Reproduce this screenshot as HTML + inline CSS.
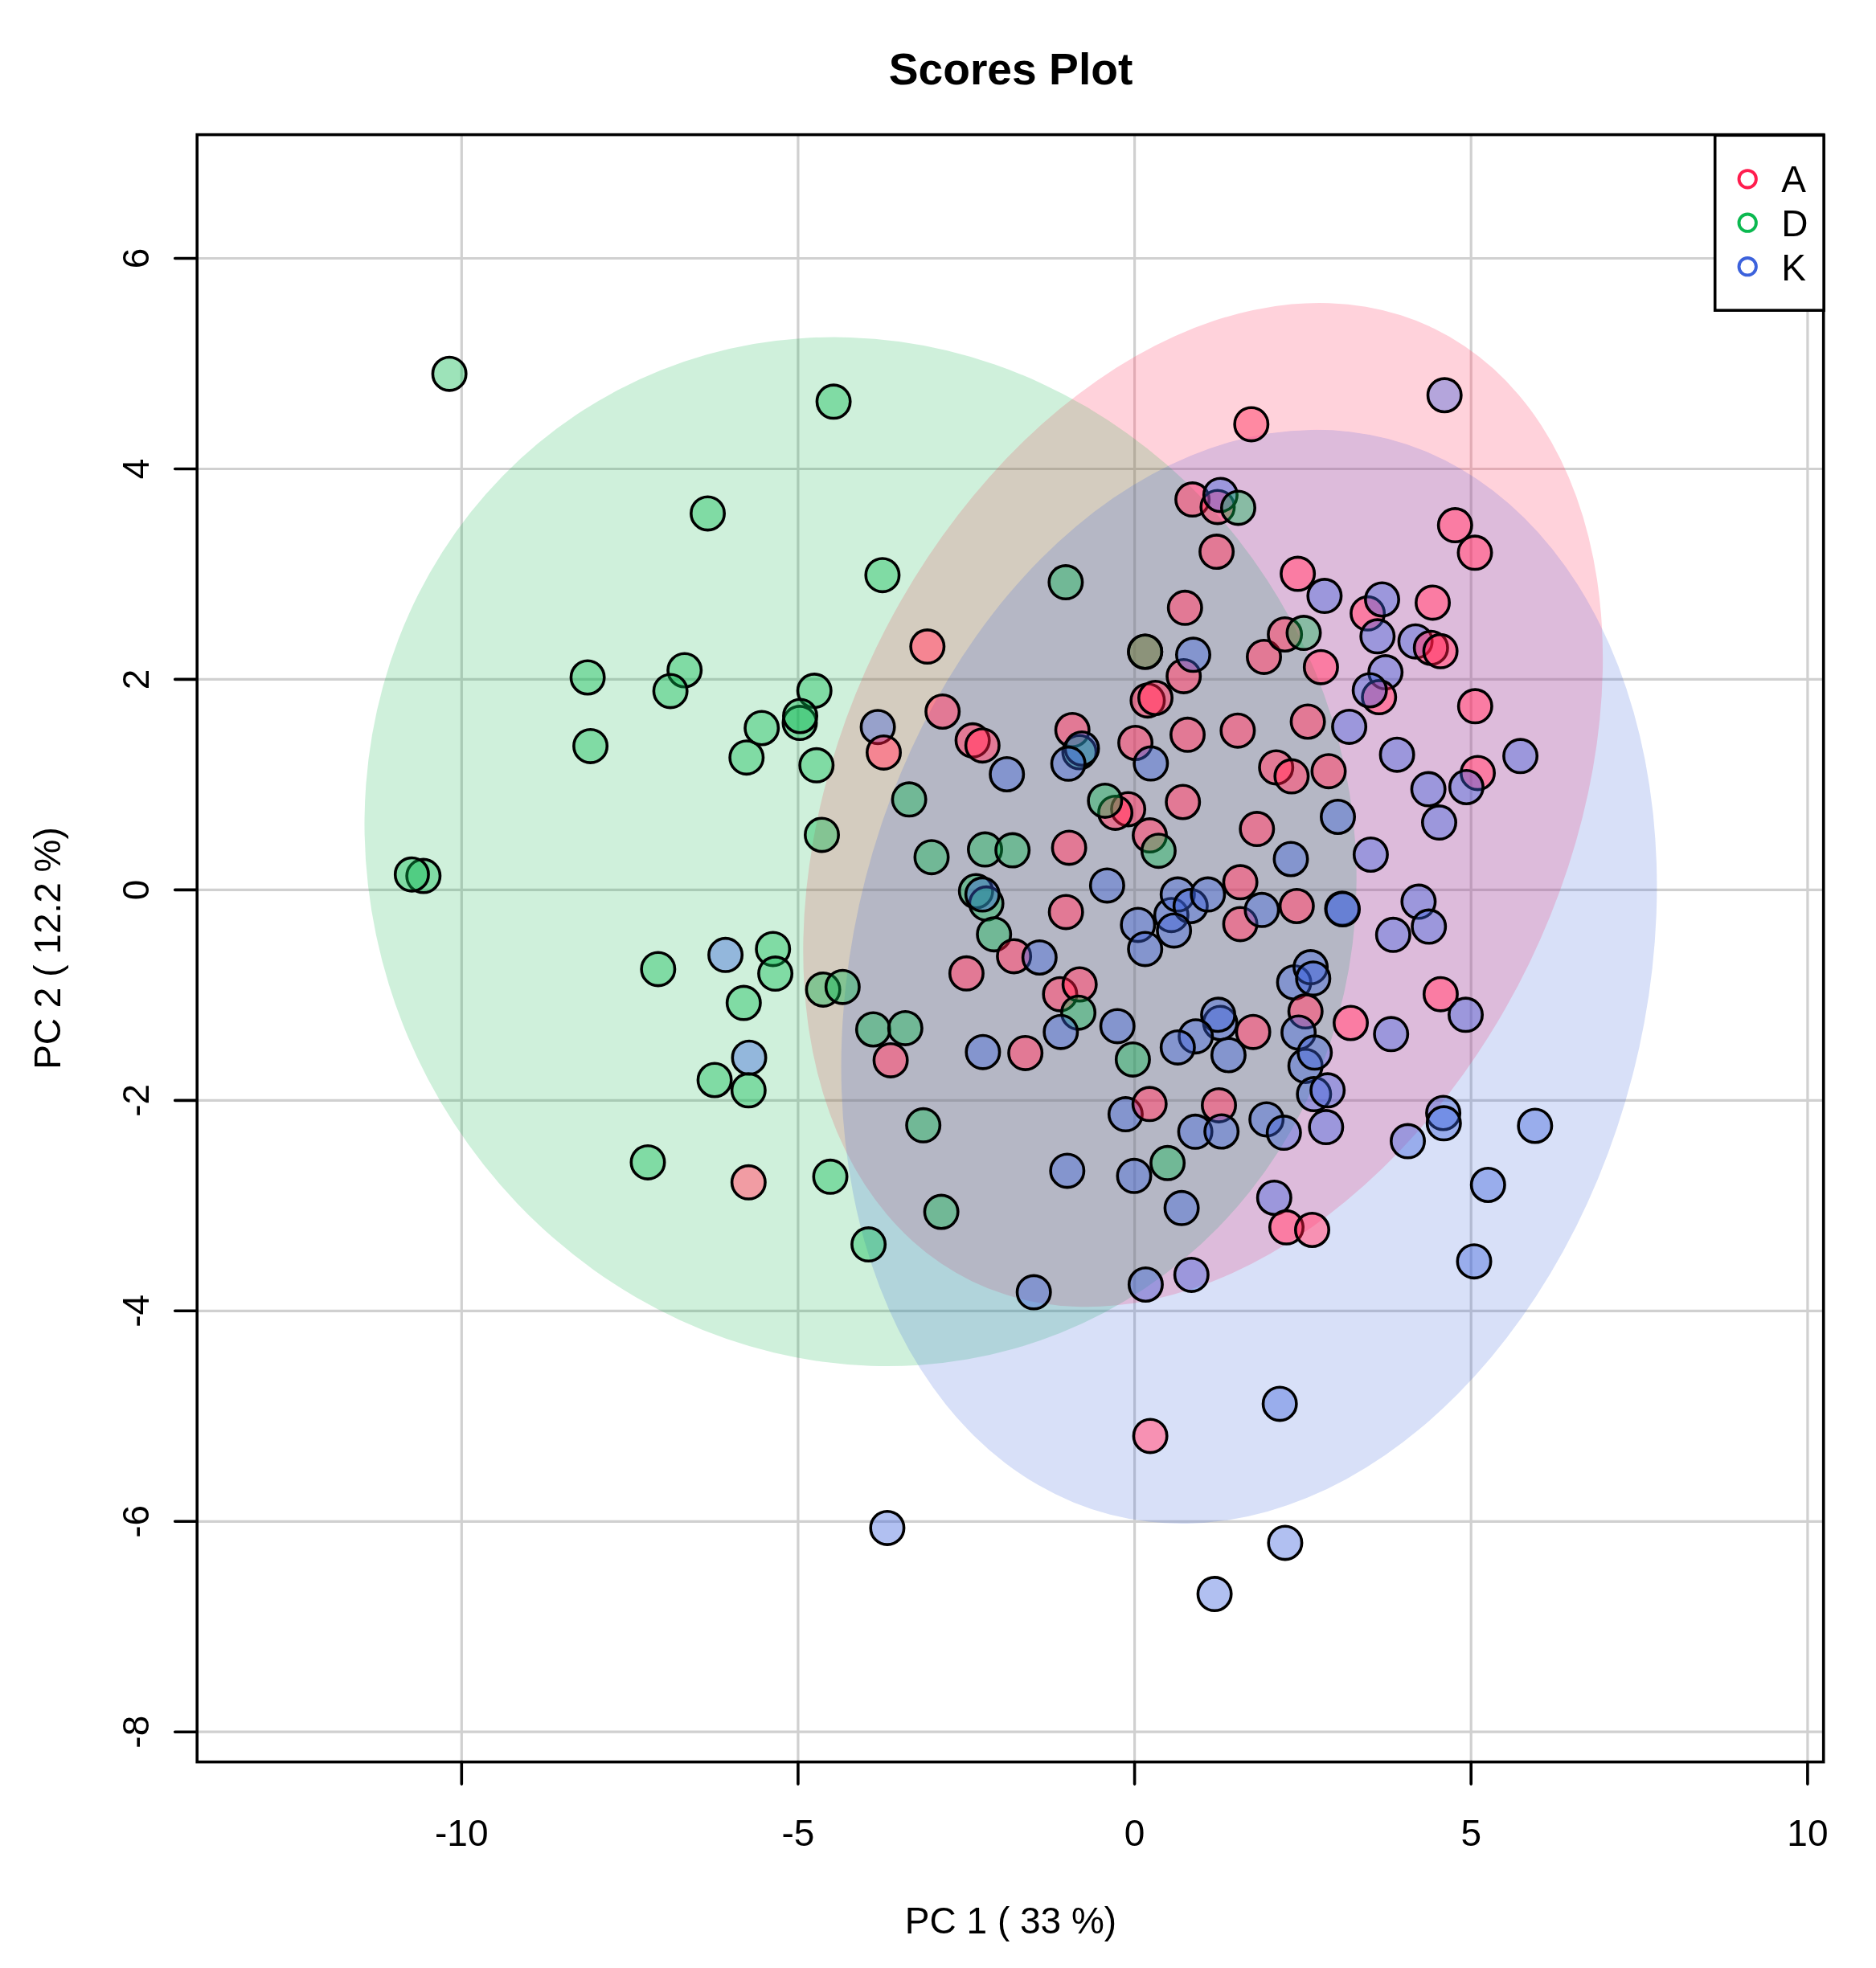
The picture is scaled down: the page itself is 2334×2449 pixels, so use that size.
<!DOCTYPE html>
<html><head><meta charset="utf-8"><title>Scores Plot</title>
<style>html,body{margin:0;padding:0;background:#fff}svg{display:block}</style>
</head><body>
<svg xmlns="http://www.w3.org/2000/svg" width="2334" height="2449" viewBox="0 0 2334 2449" style="filter:saturate(1.4)">
<rect x="0" y="0" width="2334" height="2449" fill="#ffffff"/>
<path d="M574.3 167.6V2192.6M992.9 167.6V2192.6M1411.6 167.6V2192.6M1830.2 167.6V2192.6M2248.9 167.6V2192.6M245.2 2155.2H2268.7M245.2 1893.3H2268.7M245.2 1631.3H2268.7M245.2 1369.4H2268.7M245.2 1107.4H2268.7M245.2 845.4H2268.7M245.2 583.5H2268.7M245.2 321.5H2268.7" stroke="#d0d0d0" stroke-width="3.2" fill="none"/>
<ellipse cx="1496.7" cy="1001.6" rx="658.8" ry="451.2" transform="rotate(-64.14 1496.7 1001.6)" fill="#ea2e51" fill-opacity="0.2"/>
<ellipse cx="1070.6" cy="1059.8" rx="648.9" ry="608.0" transform="rotate(-117.75 1070.6 1059.8)" fill="#30ac61" fill-opacity="0.2"/>
<ellipse cx="1554.0" cy="1215.4" rx="691.3" ry="492.7" transform="rotate(-75.52 1554.0 1215.4)" fill="#4762b9" fill-opacity="0.2"/>
<g stroke="#000" stroke-width="3.6">
<circle cx="559.1" cy="465.2" r="20.7" fill="#30ac61" fill-opacity="0.4"/>
<circle cx="1037.1" cy="499.8" r="20.7" fill="#30ac61" fill-opacity="0.4"/>
<circle cx="880.5" cy="638.9" r="20.7" fill="#30ac61" fill-opacity="0.4"/>
<circle cx="731.1" cy="843.0" r="20.7" fill="#30ac61" fill-opacity="0.4"/>
<circle cx="851.7" cy="834.0" r="20.7" fill="#30ac61" fill-opacity="0.4"/>
<circle cx="834.1" cy="859.9" r="20.7" fill="#30ac61" fill-opacity="0.4"/>
<circle cx="734.6" cy="928.4" r="20.7" fill="#30ac61" fill-opacity="0.4"/>
<circle cx="1013.2" cy="859.6" r="20.7" fill="#30ac61" fill-opacity="0.4"/>
<circle cx="995.0" cy="899.6" r="20.7" fill="#30ac61" fill-opacity="0.4"/>
<circle cx="995.5" cy="891.0" r="20.7" fill="#30ac61" fill-opacity="0.4"/>
<circle cx="947.7" cy="906.0" r="20.7" fill="#30ac61" fill-opacity="0.4"/>
<circle cx="928.8" cy="942.7" r="20.7" fill="#30ac61" fill-opacity="0.4"/>
<circle cx="1015.8" cy="952.3" r="20.7" fill="#30ac61" fill-opacity="0.4"/>
<circle cx="1556.8" cy="527.9" r="20.7" fill="#ea2e51" fill-opacity="0.4"/>
<circle cx="1483.6" cy="621.6" r="20.7" fill="#ea2e51" fill-opacity="0.4"/>
<circle cx="1514.9" cy="630.9" r="20.7" fill="#ea2e51" fill-opacity="0.4"/>
<circle cx="1518.4" cy="615.9" r="20.7" fill="#4762b9" fill-opacity="0.4"/>
<circle cx="1540.5" cy="631.9" r="20.7" fill="#30ac61" fill-opacity="0.4"/>
<circle cx="1513.6" cy="686.6" r="20.7" fill="#ea2e51" fill-opacity="0.4"/>
<circle cx="1097.9" cy="715.7" r="20.7" fill="#30ac61" fill-opacity="0.4"/>
<circle cx="1325.9" cy="724.6" r="20.7" fill="#30ac61" fill-opacity="0.4"/>
<circle cx="1474.3" cy="756.3" r="20.7" fill="#ea2e51" fill-opacity="0.4"/>
<circle cx="1153.8" cy="804.6" r="20.7" fill="#ea2e51" fill-opacity="0.4"/>
<circle cx="1424.7" cy="811.0" r="20.7" fill="#ea2e51" fill-opacity="0.4"/>
<circle cx="1424.7" cy="811.0" r="20.7" fill="#30ac61" fill-opacity="0.4"/>
<circle cx="1472.7" cy="841.4" r="20.7" fill="#ea2e51" fill-opacity="0.4"/>
<circle cx="1484.5" cy="814.8" r="20.7" fill="#4762b9" fill-opacity="0.4"/>
<circle cx="1572.5" cy="817.4" r="20.7" fill="#ea2e51" fill-opacity="0.4"/>
<circle cx="1427.9" cy="871.7" r="20.7" fill="#ea2e51" fill-opacity="0.4"/>
<circle cx="1437.5" cy="868.5" r="20.7" fill="#ea2e51" fill-opacity="0.4"/>
<circle cx="1092.1" cy="904.7" r="20.7" fill="#4762b9" fill-opacity="0.4"/>
<circle cx="1099.5" cy="936.4" r="20.7" fill="#ea2e51" fill-opacity="0.4"/>
<circle cx="1172.7" cy="885.5" r="20.7" fill="#ea2e51" fill-opacity="0.4"/>
<circle cx="1210.1" cy="921.3" r="20.7" fill="#ea2e51" fill-opacity="0.4"/>
<circle cx="1222.3" cy="927.7" r="20.7" fill="#ea2e51" fill-opacity="0.4"/>
<circle cx="1252.7" cy="963.5" r="20.7" fill="#4762b9" fill-opacity="0.4"/>
<circle cx="1334.2" cy="908.5" r="20.7" fill="#ea2e51" fill-opacity="0.4"/>
<circle cx="1343.0" cy="936.0" r="20.7" fill="#30ac61" fill-opacity="0.4"/>
<circle cx="1346.0" cy="931.5" r="20.7" fill="#4762b9" fill-opacity="0.4"/>
<circle cx="1329.2" cy="950.3" r="20.7" fill="#4762b9" fill-opacity="0.4"/>
<circle cx="1412.6" cy="924.5" r="20.7" fill="#ea2e51" fill-opacity="0.4"/>
<circle cx="1431.8" cy="950.1" r="20.7" fill="#4762b9" fill-opacity="0.4"/>
<circle cx="1477.5" cy="914.3" r="20.7" fill="#ea2e51" fill-opacity="0.4"/>
<circle cx="1539.9" cy="909.2" r="20.7" fill="#ea2e51" fill-opacity="0.4"/>
<circle cx="1797.2" cy="491.8" r="20.7" fill="#4762b9" fill-opacity="0.4"/>
<circle cx="1810.3" cy="653.6" r="20.7" fill="#ea2e51" fill-opacity="0.4"/>
<circle cx="1835.0" cy="687.8" r="20.7" fill="#ea2e51" fill-opacity="0.4"/>
<circle cx="1614.6" cy="714.1" r="20.7" fill="#ea2e51" fill-opacity="0.4"/>
<circle cx="1647.9" cy="741.6" r="20.7" fill="#4762b9" fill-opacity="0.4"/>
<circle cx="1701.6" cy="763.3" r="20.7" fill="#ea2e51" fill-opacity="0.4"/>
<circle cx="1719.5" cy="746.0" r="20.7" fill="#4762b9" fill-opacity="0.4"/>
<circle cx="1782.5" cy="749.9" r="20.7" fill="#ea2e51" fill-opacity="0.4"/>
<circle cx="1713.8" cy="791.8" r="20.7" fill="#4762b9" fill-opacity="0.4"/>
<circle cx="1598.6" cy="789.5" r="20.7" fill="#ea2e51" fill-opacity="0.4"/>
<circle cx="1622.0" cy="787.6" r="20.7" fill="#30ac61" fill-opacity="0.4"/>
<circle cx="1643.4" cy="830.2" r="20.7" fill="#ea2e51" fill-opacity="0.4"/>
<circle cx="1761.1" cy="798.2" r="20.7" fill="#4762b9" fill-opacity="0.4"/>
<circle cx="1780.3" cy="806.2" r="20.7" fill="#ea2e51" fill-opacity="0.4"/>
<circle cx="1792.1" cy="810.3" r="20.7" fill="#ea2e51" fill-opacity="0.4"/>
<circle cx="1723.7" cy="836.6" r="20.7" fill="#4762b9" fill-opacity="0.4"/>
<circle cx="1715.7" cy="867.6" r="20.7" fill="#ea2e51" fill-opacity="0.4"/>
<circle cx="1704.2" cy="859.0" r="20.7" fill="#4762b9" fill-opacity="0.4"/>
<circle cx="1835.3" cy="878.8" r="20.7" fill="#ea2e51" fill-opacity="0.4"/>
<circle cx="1627.1" cy="898.0" r="20.7" fill="#ea2e51" fill-opacity="0.4"/>
<circle cx="1678.6" cy="904.4" r="20.7" fill="#4762b9" fill-opacity="0.4"/>
<circle cx="1738.1" cy="939.2" r="20.7" fill="#4762b9" fill-opacity="0.4"/>
<circle cx="1891.6" cy="940.8" r="20.7" fill="#4762b9" fill-opacity="0.4"/>
<circle cx="1587.7" cy="954.9" r="20.7" fill="#ea2e51" fill-opacity="0.4"/>
<circle cx="1606.9" cy="966.1" r="20.7" fill="#ea2e51" fill-opacity="0.4"/>
<circle cx="1653.0" cy="959.7" r="20.7" fill="#ea2e51" fill-opacity="0.4"/>
<circle cx="1838.5" cy="961.9" r="20.7" fill="#ea2e51" fill-opacity="0.4"/>
<circle cx="1824.4" cy="979.5" r="20.7" fill="#4762b9" fill-opacity="0.4"/>
<circle cx="1777.1" cy="982.1" r="20.7" fill="#4762b9" fill-opacity="0.4"/>
<circle cx="526.8" cy="1090.1" r="20.7" fill="#30ac61" fill-opacity="0.4"/>
<circle cx="512.4" cy="1088.2" r="20.7" fill="#30ac61" fill-opacity="0.4"/>
<circle cx="1022.5" cy="1038.9" r="20.7" fill="#30ac61" fill-opacity="0.4"/>
<circle cx="818.8" cy="1205.9" r="20.7" fill="#30ac61" fill-opacity="0.4"/>
<circle cx="902.6" cy="1188.3" r="20.7" fill="#4762b9" fill-opacity="0.4"/>
<circle cx="961.7" cy="1180.9" r="20.7" fill="#30ac61" fill-opacity="0.4"/>
<circle cx="964.6" cy="1211.6" r="20.7" fill="#30ac61" fill-opacity="0.4"/>
<circle cx="925.3" cy="1248.1" r="20.7" fill="#30ac61" fill-opacity="0.4"/>
<circle cx="1024.1" cy="1231.4" r="20.7" fill="#30ac61" fill-opacity="0.4"/>
<circle cx="1048.3" cy="1228.2" r="20.7" fill="#30ac61" fill-opacity="0.4"/>
<circle cx="932.0" cy="1316.2" r="20.7" fill="#4762b9" fill-opacity="0.4"/>
<circle cx="889.1" cy="1344.0" r="20.7" fill="#30ac61" fill-opacity="0.4"/>
<circle cx="931.3" cy="1356.8" r="20.7" fill="#30ac61" fill-opacity="0.4"/>
<circle cx="806.0" cy="1446.4" r="20.7" fill="#30ac61" fill-opacity="0.4"/>
<circle cx="931.3" cy="1471.3" r="20.7" fill="#ea2e51" fill-opacity="0.4"/>
<circle cx="1033.0" cy="1464.3" r="20.7" fill="#30ac61" fill-opacity="0.4"/>
<circle cx="1131.1" cy="994.8" r="20.7" fill="#30ac61" fill-opacity="0.4"/>
<circle cx="1159.0" cy="1066.7" r="20.7" fill="#30ac61" fill-opacity="0.4"/>
<circle cx="1225.5" cy="1057.1" r="20.7" fill="#30ac61" fill-opacity="0.4"/>
<circle cx="1259.7" cy="1058.1" r="20.7" fill="#30ac61" fill-opacity="0.4"/>
<circle cx="1330.1" cy="1054.9" r="20.7" fill="#ea2e51" fill-opacity="0.4"/>
<circle cx="1403.6" cy="1006.9" r="20.7" fill="#ea2e51" fill-opacity="0.4"/>
<circle cx="1387.6" cy="1011.4" r="20.7" fill="#ea2e51" fill-opacity="0.4"/>
<circle cx="1374.8" cy="996.4" r="20.7" fill="#30ac61" fill-opacity="0.4"/>
<circle cx="1430.5" cy="1039.6" r="20.7" fill="#ea2e51" fill-opacity="0.4"/>
<circle cx="1441.4" cy="1058.7" r="20.7" fill="#30ac61" fill-opacity="0.4"/>
<circle cx="1471.7" cy="998.0" r="20.7" fill="#ea2e51" fill-opacity="0.4"/>
<circle cx="1563.8" cy="1031.6" r="20.7" fill="#ea2e51" fill-opacity="0.4"/>
<circle cx="1377.4" cy="1101.9" r="20.7" fill="#4762b9" fill-opacity="0.4"/>
<circle cx="1214.3" cy="1109.0" r="20.7" fill="#30ac61" fill-opacity="0.4"/>
<circle cx="1227.1" cy="1124.3" r="20.7" fill="#30ac61" fill-opacity="0.4"/>
<circle cx="1222.3" cy="1113.1" r="20.7" fill="#4762b9" fill-opacity="0.4"/>
<circle cx="1236.7" cy="1162.7" r="20.7" fill="#30ac61" fill-opacity="0.4"/>
<circle cx="1261.6" cy="1189.9" r="20.7" fill="#ea2e51" fill-opacity="0.4"/>
<circle cx="1293.3" cy="1191.5" r="20.7" fill="#4762b9" fill-opacity="0.4"/>
<circle cx="1326.2" cy="1134.9" r="20.7" fill="#ea2e51" fill-opacity="0.4"/>
<circle cx="1202.4" cy="1211.3" r="20.7" fill="#ea2e51" fill-opacity="0.4"/>
<circle cx="1086.4" cy="1281.0" r="20.7" fill="#30ac61" fill-opacity="0.4"/>
<circle cx="1126.3" cy="1279.4" r="20.7" fill="#30ac61" fill-opacity="0.4"/>
<circle cx="1108.1" cy="1319.4" r="20.7" fill="#ea2e51" fill-opacity="0.4"/>
<circle cx="1222.9" cy="1309.2" r="20.7" fill="#4762b9" fill-opacity="0.4"/>
<circle cx="1275.7" cy="1310.4" r="20.7" fill="#ea2e51" fill-opacity="0.4"/>
<circle cx="1318.9" cy="1237.2" r="20.7" fill="#ea2e51" fill-opacity="0.4"/>
<circle cx="1343.2" cy="1225.0" r="20.7" fill="#ea2e51" fill-opacity="0.4"/>
<circle cx="1341.6" cy="1260.2" r="20.7" fill="#30ac61" fill-opacity="0.4"/>
<circle cx="1319.8" cy="1284.2" r="20.7" fill="#4762b9" fill-opacity="0.4"/>
<circle cx="1390.2" cy="1276.9" r="20.7" fill="#4762b9" fill-opacity="0.4"/>
<circle cx="1409.4" cy="1318.4" r="20.7" fill="#30ac61" fill-opacity="0.4"/>
<circle cx="1415.8" cy="1150.9" r="20.7" fill="#4762b9" fill-opacity="0.4"/>
<circle cx="1424.7" cy="1180.9" r="20.7" fill="#4762b9" fill-opacity="0.4"/>
<circle cx="1457.3" cy="1138.7" r="20.7" fill="#4762b9" fill-opacity="0.4"/>
<circle cx="1465.3" cy="1113.1" r="20.7" fill="#4762b9" fill-opacity="0.4"/>
<circle cx="1481.3" cy="1127.5" r="20.7" fill="#4762b9" fill-opacity="0.4"/>
<circle cx="1460.6" cy="1157.9" r="20.7" fill="#4762b9" fill-opacity="0.4"/>
<circle cx="1502.8" cy="1113.1" r="20.7" fill="#4762b9" fill-opacity="0.4"/>
<circle cx="1543.1" cy="1097.8" r="20.7" fill="#ea2e51" fill-opacity="0.4"/>
<circle cx="1543.1" cy="1149.9" r="20.7" fill="#ea2e51" fill-opacity="0.4"/>
<circle cx="1569.9" cy="1132.3" r="20.7" fill="#4762b9" fill-opacity="0.4"/>
<circle cx="1518.1" cy="1273.0" r="20.7" fill="#4762b9" fill-opacity="0.4"/>
<circle cx="1515.6" cy="1262.8" r="20.7" fill="#4762b9" fill-opacity="0.4"/>
<circle cx="1487.7" cy="1289.7" r="20.7" fill="#4762b9" fill-opacity="0.4"/>
<circle cx="1465.3" cy="1303.4" r="20.7" fill="#4762b9" fill-opacity="0.4"/>
<circle cx="1528.4" cy="1313.0" r="20.7" fill="#4762b9" fill-opacity="0.4"/>
<circle cx="1559.1" cy="1284.2" r="20.7" fill="#ea2e51" fill-opacity="0.4"/>
<circle cx="1400.4" cy="1386.6" r="20.7" fill="#4762b9" fill-opacity="0.4"/>
<circle cx="1430.2" cy="1373.8" r="20.7" fill="#ea2e51" fill-opacity="0.4"/>
<circle cx="1516.5" cy="1375.4" r="20.7" fill="#ea2e51" fill-opacity="0.4"/>
<circle cx="1487.1" cy="1408.3" r="20.7" fill="#4762b9" fill-opacity="0.4"/>
<circle cx="1519.7" cy="1408.0" r="20.7" fill="#4762b9" fill-opacity="0.4"/>
<circle cx="1575.7" cy="1392.9" r="20.7" fill="#4762b9" fill-opacity="0.4"/>
<circle cx="1148.7" cy="1400.3" r="20.7" fill="#30ac61" fill-opacity="0.4"/>
<circle cx="1327.8" cy="1456.9" r="20.7" fill="#4762b9" fill-opacity="0.4"/>
<circle cx="1411.0" cy="1463.3" r="20.7" fill="#4762b9" fill-opacity="0.4"/>
<circle cx="1452.6" cy="1447.3" r="20.7" fill="#30ac61" fill-opacity="0.4"/>
<circle cx="1470.1" cy="1503.3" r="20.7" fill="#4762b9" fill-opacity="0.4"/>
<circle cx="1585.3" cy="1490.5" r="20.7" fill="#4762b9" fill-opacity="0.4"/>
<circle cx="1171.1" cy="1508.1" r="20.7" fill="#30ac61" fill-opacity="0.4"/>
<circle cx="1664.5" cy="1016.5" r="20.7" fill="#4762b9" fill-opacity="0.4"/>
<circle cx="1790.5" cy="1023.6" r="20.7" fill="#4762b9" fill-opacity="0.4"/>
<circle cx="1606.0" cy="1069.0" r="20.7" fill="#4762b9" fill-opacity="0.4"/>
<circle cx="1705.4" cy="1063.5" r="20.7" fill="#4762b9" fill-opacity="0.4"/>
<circle cx="1613.3" cy="1127.5" r="20.7" fill="#ea2e51" fill-opacity="0.4"/>
<circle cx="1669.9" cy="1130.7" r="20.7" fill="#4762b9" fill-opacity="0.4"/>
<circle cx="1670.5" cy="1131.5" r="20.7" fill="#4762b9" fill-opacity="0.4"/>
<circle cx="1764.9" cy="1122.1" r="20.7" fill="#4762b9" fill-opacity="0.4"/>
<circle cx="1777.7" cy="1153.1" r="20.7" fill="#4762b9" fill-opacity="0.4"/>
<circle cx="1733.3" cy="1163.3" r="20.7" fill="#4762b9" fill-opacity="0.4"/>
<circle cx="1610.1" cy="1222.5" r="20.7" fill="#4762b9" fill-opacity="0.4"/>
<circle cx="1630.6" cy="1203.6" r="20.7" fill="#4762b9" fill-opacity="0.4"/>
<circle cx="1633.8" cy="1217.7" r="20.7" fill="#4762b9" fill-opacity="0.4"/>
<circle cx="1624.2" cy="1258.6" r="20.7" fill="#ea2e51" fill-opacity="0.4"/>
<circle cx="1615.6" cy="1284.9" r="20.7" fill="#4762b9" fill-opacity="0.4"/>
<circle cx="1680.5" cy="1273.0" r="20.7" fill="#ea2e51" fill-opacity="0.4"/>
<circle cx="1730.7" cy="1286.8" r="20.7" fill="#4762b9" fill-opacity="0.4"/>
<circle cx="1792.4" cy="1237.2" r="20.7" fill="#ea2e51" fill-opacity="0.4"/>
<circle cx="1823.5" cy="1262.8" r="20.7" fill="#4762b9" fill-opacity="0.4"/>
<circle cx="1624.2" cy="1326.4" r="20.7" fill="#4762b9" fill-opacity="0.4"/>
<circle cx="1635.7" cy="1309.8" r="20.7" fill="#4762b9" fill-opacity="0.4"/>
<circle cx="1634.8" cy="1361.6" r="20.7" fill="#4762b9" fill-opacity="0.4"/>
<circle cx="1651.7" cy="1356.8" r="20.7" fill="#4762b9" fill-opacity="0.4"/>
<circle cx="1649.8" cy="1402.6" r="20.7" fill="#4762b9" fill-opacity="0.4"/>
<circle cx="1597.3" cy="1409.6" r="20.7" fill="#4762b9" fill-opacity="0.4"/>
<circle cx="1795.6" cy="1385.0" r="20.7" fill="#4762b9" fill-opacity="0.4"/>
<circle cx="1796.3" cy="1397.8" r="20.7" fill="#4762b9" fill-opacity="0.4"/>
<circle cx="1751.5" cy="1420.1" r="20.7" fill="#4762b9" fill-opacity="0.4"/>
<circle cx="1909.8" cy="1401.0" r="20.7" fill="#4762b9" fill-opacity="0.4"/>
<circle cx="1851.3" cy="1474.5" r="20.7" fill="#4762b9" fill-opacity="0.4"/>
<circle cx="1600.5" cy="1527.3" r="20.7" fill="#ea2e51" fill-opacity="0.4"/>
<circle cx="1632.5" cy="1530.5" r="20.7" fill="#ea2e51" fill-opacity="0.4"/>
<circle cx="1080.6" cy="1548.6" r="20.7" fill="#30ac61" fill-opacity="0.4"/>
<circle cx="1286.2" cy="1608.1" r="20.7" fill="#4762b9" fill-opacity="0.4"/>
<circle cx="1425.4" cy="1598.5" r="20.7" fill="#4762b9" fill-opacity="0.4"/>
<circle cx="1482.3" cy="1586.4" r="20.7" fill="#4762b9" fill-opacity="0.4"/>
<circle cx="1431.1" cy="1786.9" r="20.7" fill="#ea2e51" fill-opacity="0.4"/>
<circle cx="1103.9" cy="1901.4" r="20.7" fill="#4762b9" fill-opacity="0.4"/>
<circle cx="1511.1" cy="1983.6" r="20.7" fill="#4762b9" fill-opacity="0.4"/>
<circle cx="1834.0" cy="1569.7" r="20.7" fill="#4762b9" fill-opacity="0.4"/>
<circle cx="1592.2" cy="1746.9" r="20.7" fill="#4762b9" fill-opacity="0.4"/>
<circle cx="1598.9" cy="1919.9" r="20.7" fill="#4762b9" fill-opacity="0.4"/>
</g>
<rect x="245.2" y="167.6" width="2023.5" height="2025.0" fill="none" stroke="#000" stroke-width="3.6"/>
<path d="M574.3 2192.6v27.5M992.9 2192.6v27.5M1411.6 2192.6v27.5M1830.2 2192.6v27.5M2248.9 2192.6v27.5M245.2 2155.2h-27.5M245.2 1893.3h-27.5M245.2 1631.3h-27.5M245.2 1369.4h-27.5M245.2 1107.4h-27.5M245.2 845.4h-27.5M245.2 583.5h-27.5M245.2 321.5h-27.5" stroke="#000" stroke-width="3.6" stroke-linecap="round" fill="none"/>
<text x="574.3" y="2297" font-family="Liberation Sans, Arial, sans-serif" font-size="46" text-anchor="middle">-10</text>
<text x="992.9" y="2297" font-family="Liberation Sans, Arial, sans-serif" font-size="46" text-anchor="middle">-5</text>
<text x="1411.6" y="2297" font-family="Liberation Sans, Arial, sans-serif" font-size="46" text-anchor="middle">0</text>
<text x="1830.2" y="2297" font-family="Liberation Sans, Arial, sans-serif" font-size="46" text-anchor="middle">5</text>
<text x="2248.9" y="2297" font-family="Liberation Sans, Arial, sans-serif" font-size="46" text-anchor="middle">10</text>
<text transform="translate(185.3 2155.2) rotate(-90)" font-family="Liberation Sans, Arial, sans-serif" font-size="46" text-anchor="middle">-8</text>
<text transform="translate(185.3 1893.3) rotate(-90)" font-family="Liberation Sans, Arial, sans-serif" font-size="46" text-anchor="middle">-6</text>
<text transform="translate(185.3 1631.3) rotate(-90)" font-family="Liberation Sans, Arial, sans-serif" font-size="46" text-anchor="middle">-4</text>
<text transform="translate(185.3 1369.4) rotate(-90)" font-family="Liberation Sans, Arial, sans-serif" font-size="46" text-anchor="middle">-2</text>
<text transform="translate(185.3 1107.4) rotate(-90)" font-family="Liberation Sans, Arial, sans-serif" font-size="46" text-anchor="middle">0</text>
<text transform="translate(185.3 845.4) rotate(-90)" font-family="Liberation Sans, Arial, sans-serif" font-size="46" text-anchor="middle">2</text>
<text transform="translate(185.3 583.5) rotate(-90)" font-family="Liberation Sans, Arial, sans-serif" font-size="46" text-anchor="middle">4</text>
<text transform="translate(185.3 321.5) rotate(-90)" font-family="Liberation Sans, Arial, sans-serif" font-size="46" text-anchor="middle">6</text>
<text x="1257.5" y="2405.9" font-family="Liberation Sans, Arial, sans-serif" font-size="46" text-anchor="middle">PC 1 ( 33 %)</text>
<text transform="translate(74.9 1180) rotate(-90)" font-family="Liberation Sans, Arial, sans-serif" font-size="46" text-anchor="middle">PC 2 ( 12.2 %)</text>
<text x="1257.5" y="104.9" font-family="Liberation Sans, Arial, sans-serif" font-size="55.20" font-weight="bold" text-anchor="middle">Scores Plot</text>
<rect x="2133.7" y="168.3" width="135.4" height="217.9" fill="#fff" stroke="#000" stroke-width="3.6"/>
<circle cx="2174.2" cy="222.8" r="10.7" fill="none" stroke="#ea2e51" stroke-width="3.9"/>
<text x="2216.3" y="239" font-family="Liberation Sans, Arial, sans-serif" font-size="46">A</text>
<circle cx="2174.2" cy="277.2" r="10.7" fill="none" stroke="#30ac61" stroke-width="3.9"/>
<text x="2216.3" y="294.2" font-family="Liberation Sans, Arial, sans-serif" font-size="46">D</text>
<circle cx="2174.2" cy="331.7" r="10.7" fill="none" stroke="#4762b9" stroke-width="3.9"/>
<text x="2216.3" y="348.9" font-family="Liberation Sans, Arial, sans-serif" font-size="46">K</text>
</svg>
</body></html>
